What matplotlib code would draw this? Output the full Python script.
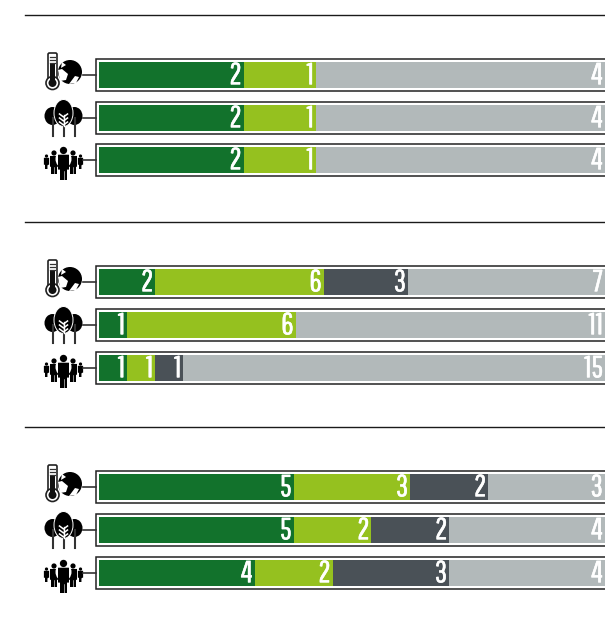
import matplotlib
matplotlib.use('Agg')
import matplotlib.pyplot as plt
import matplotlib.patheffects as pe
from matplotlib.patches import Circle, Ellipse, Rectangle, FancyBboxPatch, Polygon

W, H = 605, 622

# values for each group, one row per icon
group1 = [[2, 1, 0, 4], [2, 1, 0, 4], [2, 1, 0, 4]]
group2 = [[2, 6, 3, 7], [1, 6, 0, 11], [1, 1, 1, 15]]
group3 = [[5, 3, 2, 3], [5, 2, 2, 4], [4, 2, 3, 4]]
colors = ['#12722c', '#95c11f', '#4a5157', '#b2b9ba']

rule_y = [15, 222, 427]
row_y = [[75, 118, 160], [282, 325, 368], [487, 530, 573]]

fig = plt.figure(figsize=(W / 100, H / 100), dpi=100)
bg = fig.add_axes([0, 0, 1, 1])
bg.set_xlim(0, W)
bg.set_ylim(H, 0)
bg.axis('off')


# temperature and globe icon
def icon_climate(ax, y):
    ax.add_patch(Circle((70, y - 3), 12, fc='k'))
    ax.add_patch(Polygon([[58, y - 5], [62, y - 6], [68, y - 1], [66, y + 5], [60, y + 6]], fc='white'))
    ax.add_patch(Polygon([[69, y + 9], [75, y + 1], [79, y + 2], [76, y + 8]], fc='white'))
    ax.add_patch(Polygon([[62, y - 13], [66, y - 10], [61, y - 7]], fc='white'))
    ax.add_patch(FancyBboxPatch((49.5, y - 20.5), 6, 26, boxstyle='round,pad=1.5', fc='white', ec='#222222', lw=1.2))
    ax.add_patch(Circle((52.5, y + 8), 6.5, fc='white', ec='#222222', lw=1.2))
    ax.add_patch(Circle((52.5, y + 8), 4, fc='#111111'))
    ax.add_patch(Rectangle((50.3, y - 11), 4.4, 18, fc='#111111'))
    for d in [-18, -15, -12]:
        ax.plot([50, 55], [y + d, y + d], color='#333333', lw=0.9)


# forest icon
def icon_tree(ax, y):
    for x in [52.5, 74.5]:
        ax.plot([x, x], [y, y + 18], color='#333333', lw=1.5)
        ax.add_patch(Ellipse((x, y - 2), 16, 18, fc='k'))
    ax.add_patch(Ellipse((63.5, y - 5), 19, 27, fc='k', ec='white', lw=0.7))
    ax.plot([63.5, 63.5], [y, y + 18], color='#333333', lw=1.5)
    ax.plot([63.5, 63.5], [y - 3, y + 8], color='white', lw=1)
    for d in [-1, 3, 7]:
        ax.plot([59.5, 63.5, 67.5], [y + d - 3, y + d, y + d - 3], color='white', lw=1.1)


def person(ax, x, y, s):
    ax.add_patch(Circle((x, y - 8.5 * s), 2.8 * s, fc='k'))
    ax.add_patch(FancyBboxPatch((x - 4 * s, y - 5 * s), 8 * s, 11 * s, boxstyle='round,pad=0.3', fc='k', ec='none'))
    ax.add_patch(Rectangle((x - 2.7 * s, y + 5 * s), 5.4 * s, 9 * s, fc='k'))
    ax.plot([x, x], [y + 7 * s, y + 14 * s], color='white', lw=0.4)


# people icon, the small figures stand behind the large one
def icon_people(ax, y):
    for x, dy, s in [(46.5, 1, 0.58), (80.5, 1, 0.58), (54, 0.9, 0.93), (73, 0.9, 0.93)]:
        person(ax, x, y + dy, s)
    ax.add_patch(Ellipse((63.5, y - 1), 16, 18, fc='white'))
    person(ax, 63.5, y + 1.5, 1.3)


icons = [icon_climate, icon_tree, icon_people]

for yy in rule_y:
    bg.plot([25, W], [yy, yy], color='#1a1a1a', lw=1)

for group, ys, in zip([group1, group2, group3], row_y):
    for row, y, icon in zip(group, ys, icons):
        icon(bg, y)
        bg.plot([83, 96], [y, y], color='#333333', lw=1.2)
        bg.add_patch(Rectangle((96, y - 16), W, 32, fc='white', ec='#222222', lw=1.1))

        # one axes per bar, so each row scales to its own total
        ax = fig.add_axes([99 / W, 1 - (y + 13) / H, (W - 99) / W, 26 / H])
        ax.set_xlim(0, sum(row))
        ax.set_ylim(0, 1)
        ax.axis('off')
        left = 0
        for v, c in zip(row, colors):
            if v == 0:
                continue
            ax.barh(0.5, v, left=left, height=1, color=c)
            t = ax.annotate(str(v), (left + v, 0.47), xytext=(-1.5, 0), textcoords='offset points',
                            ha='right', va='center', color='white', fontsize=22,
                            family=['Pathway Gothic One', 'Barlow Condensed', 'DejaVu Sans'])
            # the font is lighter than the original, so thicken it a bit
            t.set_path_effects([pe.withStroke(linewidth=0.35, foreground='white')])
            left += v

fig.savefig('out.png', dpi=100)
